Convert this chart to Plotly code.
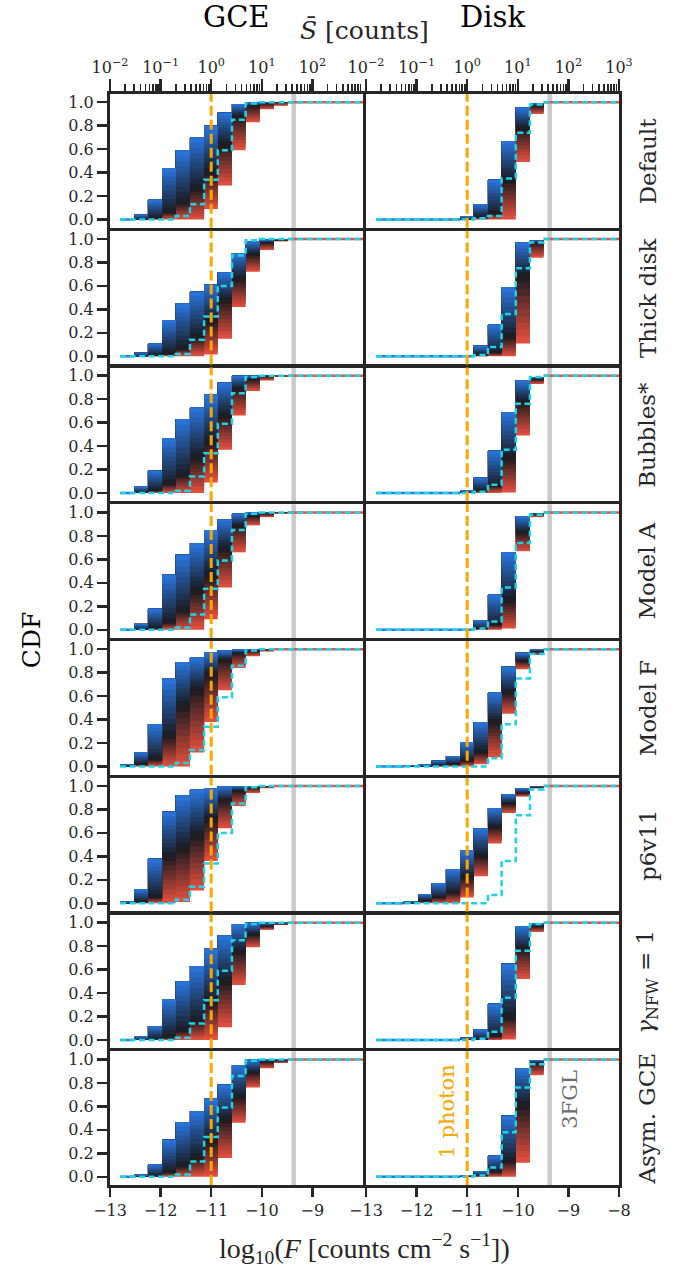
import plotly.graph_objects as go
from plotly.subplots import make_subplots

# ---------------- data ----------------
bin_edges = [-12.8, -12.52, -12.25, -11.97, -11.7, -11.42, -11.14, -10.87,
             -10.59, -10.32, -10.04, -9.76, -9.49, -9.21]
x_max = -8.0
row_labels = ["Default", "Thick disk", "Bubbles*", "Model A", "Model F",
              "p6v11", "<i>γ</i><sub>NFW</sub> = 1", "Asym. GCE"]
col_titles = ["GCE", "Disk"]
one_photon_logF = -11.0
fgl_logF = -9.37

# GCE column: upper quantile (blue), median (black), lower quantile (red), truth (cyan)
gce_hi = [
    [0.005, 0.04, 0.17, 0.44, 0.59, 0.70, 0.80, 0.91, 0.985, 0.997, 1.0, 1.0, 1.0],
    [0.005, 0.03, 0.11, 0.31, 0.45, 0.55, 0.61, 0.715, 0.88, 0.98, 0.995, 1.0, 1.0],
    [0.005, 0.055, 0.19, 0.47, 0.63, 0.73, 0.84, 0.94, 1.0, 1.0, 1.0, 1.0, 1.0],
    [0.005, 0.05, 0.18, 0.47, 0.64, 0.74, 0.85, 0.94, 0.99, 1.0, 1.0, 1.0, 1.0],
    [0.02, 0.12, 0.36, 0.75, 0.89, 0.93, 0.975, 0.99, 0.997, 1.0, 1.0, 1.0, 1.0],
    [0.02, 0.12, 0.38, 0.78, 0.92, 0.97, 0.98, 1.0, 1.0, 1.0, 1.0, 1.0, 1.0],
    [0.005, 0.03, 0.12, 0.35, 0.50, 0.63, 0.78, 0.89, 0.99, 1.0, 1.0, 1.0, 1.0],
    [0.005, 0.02, 0.105, 0.315, 0.465, 0.56, 0.667, 0.785, 0.95, 1.0, 1.0, 1.0, 1.0],
]
gce_med = [
    [0.0, 0.0, 0.01, 0.06, 0.14, 0.26, 0.40, 0.64, 0.88, 0.97, 0.99, 1.0, 1.0],
    [0.0, 0.0, 0.005, 0.02, 0.06, 0.16, 0.30, 0.48, 0.66, 0.87, 0.97, 0.99, 1.0],
    [0.0, 0.0, 0.02, 0.075, 0.15, 0.30, 0.44, 0.66, 0.89, 0.97, 0.995, 1.0, 1.0],
    [0.0, 0.0, 0.01, 0.06, 0.16, 0.33, 0.47, 0.69, 0.89, 0.97, 0.99, 1.0, 1.0],
    [0.0, 0.02, 0.06, 0.26, 0.52, 0.66, 0.79, 0.91, 0.97, 0.99, 1.0, 1.0, 1.0],
    [0.0, 0.01, 0.05, 0.40, 0.47, 0.58, 0.72, 0.88, 0.96, 0.985, 1.0, 1.0, 1.0],
    [0.0, 0.0, 0.005, 0.02, 0.075, 0.16, 0.33, 0.50, 0.75, 0.90, 0.97, 0.99, 1.0],
    [0.0, 0.0, 0.005, 0.035, 0.09, 0.16, 0.31, 0.49, 0.68, 0.89, 0.98, 0.99, 1.0],
]
gce_lo = [
    [0.0, 0.0, 0.0, 0.0, 0.0, 0.0, 0.09, 0.29, 0.59, 0.83, 0.94, 0.97, 1.0],
    [0.0, 0.0, 0.0, 0.0, 0.0, 0.0, 0.015, 0.15, 0.42, 0.72, 0.905, 0.98, 1.0],
    [0.0, 0.0, 0.0, 0.0, 0.0, 0.0, 0.09, 0.37, 0.66, 0.87, 0.96, 0.99, 1.0],
    [0.0, 0.0, 0.0, 0.0, 0.0, 0.0, 0.09, 0.36, 0.66, 0.89, 0.96, 0.99, 1.0],
    [0.0, 0.0, 0.0, 0.0, 0.0, 0.12, 0.38, 0.65, 0.84, 0.94, 0.98, 1.0, 1.0],
    [0.0, 0.0, 0.0, 0.0, 0.01, 0.11, 0.36, 0.64, 0.83, 0.94, 0.98, 1.0, 1.0],
    [0.0, 0.0, 0.0, 0.0, 0.0, 0.0, 0.0, 0.11, 0.47, 0.79, 0.94, 0.98, 1.0],
    [0.0, 0.0, 0.0, 0.0, 0.0, 0.0, 0.0, 0.16, 0.46, 0.76, 0.925, 0.97, 1.0],
]
gce_true = [
    [0, 0, 0, 0, 0.03, 0.13, 0.34, 0.59, 0.85, 0.99, 1.0, 1.0, 1.0],
    [0, 0, 0, 0, 0.02, 0.14, 0.34, 0.60, 0.86, 0.99, 1.0, 1.0, 1.0],
    [0, 0, 0, 0, 0.02, 0.14, 0.34, 0.59, 0.85, 0.99, 1.0, 1.0, 1.0],
    [0, 0, 0, 0, 0.02, 0.13, 0.35, 0.59, 0.85, 0.99, 1.0, 1.0, 1.0],
    [0, 0, 0, 0, 0.03, 0.14, 0.34, 0.59, 0.86, 0.99, 1.0, 1.0, 1.0],
    [0, 0, 0, 0, 0.03, 0.14, 0.34, 0.60, 0.85, 0.99, 1.0, 1.0, 1.0],
    [0, 0, 0, 0, 0.02, 0.14, 0.34, 0.59, 0.85, 0.99, 1.0, 1.0, 1.0],
    [0, 0, 0, 0, 0.02, 0.13, 0.34, 0.59, 0.86, 0.99, 1.0, 1.0, 1.0],
]

# Disk column
disk_hi = [
    [0, 0, 0, 0, 0, 0, 0.03, 0.13, 0.34, 0.67, 0.955, 0.99, 1.0],
    [0, 0, 0, 0, 0, 0, 0.005, 0.09, 0.27, 0.59, 0.97, 0.99, 1.0],
    [0, 0, 0, 0, 0, 0, 0.025, 0.13, 0.36, 0.69, 0.96, 0.99, 1.0],
    [0, 0, 0, 0, 0, 0, 0.005, 0.08, 0.30, 0.66, 0.97, 0.995, 1.0],
    [0, 0, 0.01, 0.02, 0.05, 0.09, 0.21, 0.38, 0.63, 0.85, 0.97, 0.997, 1.0],
    [0, 0, 0.02, 0.08, 0.17, 0.29, 0.45, 0.64, 0.81, 0.93, 0.98, 0.997, 1.0],
    [0, 0, 0, 0, 0, 0, 0.02, 0.09, 0.31, 0.65, 0.97, 0.995, 1.0],
    [0, 0, 0, 0, 0, 0, 0.015, 0.045, 0.18, 0.52, 0.925, 0.995, 1.0],
]
disk_med = [
    [0, 0, 0, 0, 0, 0, 0.0, 0.02, 0.05, 0.34, 0.78, 0.97, 1.0],
    [0, 0, 0, 0, 0, 0, 0.0, 0.01, 0.03, 0.16, 0.69, 0.97, 1.0],
    [0, 0, 0, 0, 0, 0, 0.0, 0.02, 0.06, 0.30, 0.78, 0.97, 1.0],
    [0, 0, 0, 0, 0, 0, 0.0, 0.01, 0.04, 0.25, 0.83, 0.99, 1.0],
    [0, 0, 0, 0, 0.01, 0.02, 0.05, 0.12, 0.38, 0.63, 0.90, 0.98, 1.0],
    [0, 0, 0, 0.02, 0.05, 0.09, 0.22, 0.40, 0.65, 0.85, 0.94, 0.99, 1.0],
    [0, 0, 0, 0, 0, 0, 0.0, 0.005, 0.03, 0.19, 0.78, 0.97, 1.0],
    [0, 0, 0, 0, 0, 0, 0.0, 0.01, 0.04, 0.13, 0.62, 0.97, 1.0],
]
disk_lo = [
    [0, 0, 0, 0, 0, 0, 0, 0, 0, 0.0, 0.49, 0.90, 1.0],
    [0, 0, 0, 0, 0, 0, 0, 0, 0, 0.0, 0.11, 0.84, 1.0],
    [0, 0, 0, 0, 0, 0, 0, 0, 0, 0.005, 0.49, 0.93, 1.0],
    [0, 0, 0, 0, 0, 0, 0, 0, 0, 0.01, 0.67, 0.96, 1.0],
    [0, 0, 0, 0, 0, 0, 0, 0.02, 0.08, 0.45, 0.83, 0.95, 1.0],
    [0, 0, 0, 0, 0, 0, 0.05, 0.23, 0.51, 0.77, 0.91, 0.98, 1.0],
    [0, 0, 0, 0, 0, 0, 0, 0, 0, 0.005, 0.52, 0.92, 1.0],
    [0, 0, 0, 0, 0, 0, 0, 0, 0, 0.0, 0.12, 0.865, 1.0],
]
disk_true = [
    [0, 0, 0, 0, 0, 0, 0, 0.01, 0.03, 0.35, 0.74, 0.98, 1.0],
    [0, 0, 0, 0, 0, 0, 0, 0.01, 0.08, 0.36, 0.75, 0.97, 1.0],
    [0, 0, 0, 0, 0, 0, 0, 0.01, 0.07, 0.37, 0.76, 0.99, 1.0],
    [0, 0, 0, 0, 0, 0, 0, 0.01, 0.07, 0.36, 0.74, 0.98, 1.0],
    [0, 0, 0, 0, 0, 0, 0, 0.0, 0.07, 0.36, 0.75, 0.96, 1.0],
    [0, 0, 0, 0, 0, 0, 0, 0.0, 0.07, 0.36, 0.75, 0.97, 1.0],
    [0, 0, 0, 0, 0, 0, 0, 0.01, 0.07, 0.36, 0.76, 0.99, 1.0],
    [0, 0, 0, 0, 0, 0, 0, 0.01, 0.08, 0.38, 0.76, 0.96, 1.0],
]

# ---------------- style ----------------
AX = "#262626"
BLUE = (42, 119, 224)
DARK = (26, 26, 30)
RED = (232, 80, 63)
CYAN = "#1cd3e8"
ORANGE = "#ffa500"
GREY = "#cacaca"
NB = 20
LW = 3
SERIF = "DejaVu Serif"
TICKFONT = dict(family=SERIF, size=16, color=AX)

# frame line centres (pixels) of the whole panel grid
FR_T, FR_B, FR_L, FR_R = 92, 1187, 108, 621
W, H = 680, 1272
DOM_T, DOM_B, DOM_L, DOM_R = FR_T + LW / 2, FR_B - LW / 2, FR_L + LW / 2, FR_R - LW / 2


def mix(c1, c2, a):
    return "rgb(%d,%d,%d)" % tuple(round(c1[i] + (c2[i] - c1[i]) * a) for i in range(3))


def band_color(t):
    if t >= 0.5:
        return mix(DARK, BLUE, (t - 0.5) / 0.5)
    return mix(RED, DARK, t / 0.5)


def level(lo, med, hi, t):
    if t <= 0.5:
        return lo + (med - lo) * t / 0.5
    return med + (hi - med) * (t - 0.5) / 0.5


fig = make_subplots(rows=8, cols=2,
                    horizontal_spacing=LW / (DOM_R - DOM_L),
                    vertical_spacing=LW / (DOM_B - DOM_T))

centers = [(bin_edges[i] + bin_edges[i + 1]) / 2 for i in range(len(bin_edges) - 1)] + \
          [(bin_edges[-1] + x_max) / 2]
widths = [bin_edges[i + 1] - bin_edges[i] for i in range(len(bin_edges) - 1)] + \
         [x_max - bin_edges[-1]]
edges_full = bin_edges + [x_max]


def ax_name(r, c):
    idx = (r - 1) * 2 + c
    return "" if idx == 1 else str(idx)


for r in range(1, 9):
    for c in (1, 2):
        if c == 1:
            hi, med, lo, tru = gce_hi[r - 1], gce_med[r - 1], gce_lo[r - 1], gce_true[r - 1]
        else:
            hi, med, lo, tru = disk_hi[r - 1], disk_med[r - 1], disk_lo[r - 1], disk_true[r - 1]
        n = len(hi)
        # blue floor line and red ceiling line (degenerate quantile bands)
        i0 = next(i for i in range(n) if hi[i] >= 0.01)
        fig.add_trace(go.Scatter(x=[edges_full[0], edges_full[i0]], y=[0, 0], mode="lines",
                                 line=dict(color=mix(BLUE, BLUE, 0), width=2.5),
                                 hoverinfo="skip", showlegend=False), row=r, col=c)
        i1 = next(i for i in range(n) if lo[i] >= 0.999)
        fig.add_trace(go.Scatter(x=[edges_full[i1], x_max], y=[1, 1], mode="lines",
                                 line=dict(color=mix(RED, RED, 0), width=2.5),
                                 hoverinfo="skip", showlegend=False), row=r, col=c)
        # quantile bands: each band drawn from its lower level up to the top, later bands cover earlier
        for k in range(NB):
            t0, t1 = k / NB, (k + 1) / NB
            bases, heights = [], []
            for i in range(n):
                b = level(lo[i], med[i], hi[i], t0)
                h = hi[i] - b
                bases.append(b)
                heights.append(h if h > 1e-4 else None)
            fig.add_trace(go.Bar(x=centers[:n], y=heights, base=bases, width=widths[:n],
                                 marker=dict(color=band_color((t0 + t1) / 2), line=dict(width=0)),
                                 hoverinfo="skip", showlegend=False), row=r, col=c)
        # true CDF
        fig.add_trace(go.Scatter(x=edges_full[:n] + [x_max], y=list(tru) + [tru[-1]],
                                 mode="lines", line=dict(color=CYAN, width=2.5, dash="6px,3.5px", shape="hv"),
                                 hoverinfo="skip", showlegend=False), row=r, col=c)
        a = ax_name(r, c)
        fig.add_shape(type="line", x0=fgl_logF, x1=fgl_logF, y0=0, y1=1,
                      xref="x" + a, yref="y" + a + " domain",
                      line=dict(color=GREY, width=4.5), layer="below")
        fig.add_shape(type="line", x0=one_photon_logF, x1=one_photon_logF, y0=0, y1=1,
                      xref="x" + a, yref="y" + a + " domain",
                      line=dict(color=ORANGE, width=3, dash="10px,4px"), layer="above")

# ---------------- axes ----------------
for r in range(1, 9):
    for c in (1, 2):
        xa = dict(range=[-13, x_max], showline=True, linecolor=AX, linewidth=LW, mirror=True,
                  showgrid=False, zeroline=False, ticks="", showticklabels=False, automargin=False)
        ya = dict(range=[-0.07, 1.07], showline=True, linecolor=AX, linewidth=LW, mirror=True,
                  showgrid=False, zeroline=False, ticks="", showticklabels=False, automargin=False)
        if r == 8:
            vals = [-13, -12, -11, -10, -9] if c == 1 else [-13, -12, -11, -10, -9, -8]
            xa.update(ticks="outside", ticklen=9, tickwidth=2.5, tickcolor=AX, showticklabels=True,
                      tickvals=vals, ticktext=[str(v).replace("-", "−") for v in vals],
                      tickfont=TICKFONT)
        if r == 1:
            dec = [-13, -12, -11, -10, -9] if c == 1 else [-13, -12, -11, -10, -9, -8]
            minors = []
            for d in [-13, -12, -11, -10, -9]:
                for m in [0.30103, 0.47712, 0.60206, 0.69897, 0.77815, 0.84510, 0.90309, 0.95424]:
                    minors.append(d + m)
            xa.update(side="top", ticks="outside", ticklen=12, tickwidth=2.5, tickcolor=AX,
                      showticklabels=True, tickvals=dec,
                      ticktext=["10<sup>%s</sup>" % str(d + 11).replace("-", "−") for d in dec],
                      tickfont=TICKFONT,
                      minor=dict(tickmode="array", tickvals=minors, ticks="outside", ticklen=7,
                                 tickwidth=1.6, tickcolor=AX))
        if c == 1:
            yv = [0, 0.2, 0.4, 0.6, 0.8, 1.0]
            ya.update(ticks="outside", ticklen=10, tickwidth=2.5, tickcolor=AX, showticklabels=True,
                      tickvals=yv, ticktext=["%.1f" % v for v in yv], tickfont=TICKFONT)
        fig.update_xaxes(xa, row=r, col=c)
        fig.update_yaxes(ya, row=r, col=c)

# ---------------- annotations ----------------


def py(p):
    return (DOM_B - p) / (DOM_B - DOM_T)


def px(p):
    return (p - DOM_L) / (DOM_R - DOM_L)


ann = []
for j, t in enumerate(col_titles):
    ann.append(dict(text=t, x=px((FR_L + FR_R) / 2 + (j - 0.5) * (FR_R - FR_L) / 2), y=py(16),
                    xref="paper", yref="paper",
                    showarrow=False, font=dict(family=SERIF, size=29, color="black"),
                    xanchor="center", yanchor="middle"))
ann.append(dict(text="<i>S̄</i> [counts]", x=0.5, y=py(30), xref="paper", yref="paper",
                showarrow=False, font=dict(family=SERIF, size=25, color=AX),
                xanchor="center", yanchor="middle"))
row_h = (FR_B - FR_T) / 8
for r, lab in enumerate(row_labels):
    ann.append(dict(text=lab, x=px(648), y=py(FR_T + (r + 0.5) * row_h), xref="paper", yref="paper",
                    textangle=-90, showarrow=False,
                    font=dict(family=SERIF, size=23, color=AX),
                    xanchor="center", yanchor="middle"))
ann.append(dict(text="CDF", x=px(31), y=py((FR_T + FR_B) / 2), xref="paper", yref="paper", textangle=-90,
                showarrow=False, font=dict(family=SERIF, size=25, color="black"),
                xanchor="center", yanchor="middle"))
ann.append(dict(text="log<sub>10</sub>(<i>F</i> [counts cm<sup>−2</sup> s<sup>−1</sup>])",
                x=0.5, y=py(1249), xref="paper", yref="paper", showarrow=False,
                font=dict(family="Liberation Serif", size=28, color=AX),
                xanchor="center", yanchor="middle"))
ann.append(dict(text="1 photon", x=-11.39, y=0.56, xref="x16", yref="y16", textangle=-90,
                showarrow=False, font=dict(family=SERIF, size=21, color=ORANGE),
                xanchor="center", yanchor="middle"))
ann.append(dict(text="3FGL", x=-8.96, y=0.66, xref="x16", yref="y16", textangle=-90,
                showarrow=False, font=dict(family=SERIF, size=21, color="#6e6e6e"),
                xanchor="center", yanchor="middle"))

fig.update_layout(width=W, height=H,
                  margin=dict(l=DOM_L, r=W - DOM_R, t=DOM_T, b=H - DOM_B, pad=0),
                  paper_bgcolor="white", plot_bgcolor="white", barmode="overlay",
                  annotations=ann, showlegend=False, font=dict(family=SERIF, color=AX))

fig.write_html("out.html", config={"displayModeBar": False, "staticPlot": True},
               post_script="document.body.style.margin='0';document.body.style.overflow='hidden';")
